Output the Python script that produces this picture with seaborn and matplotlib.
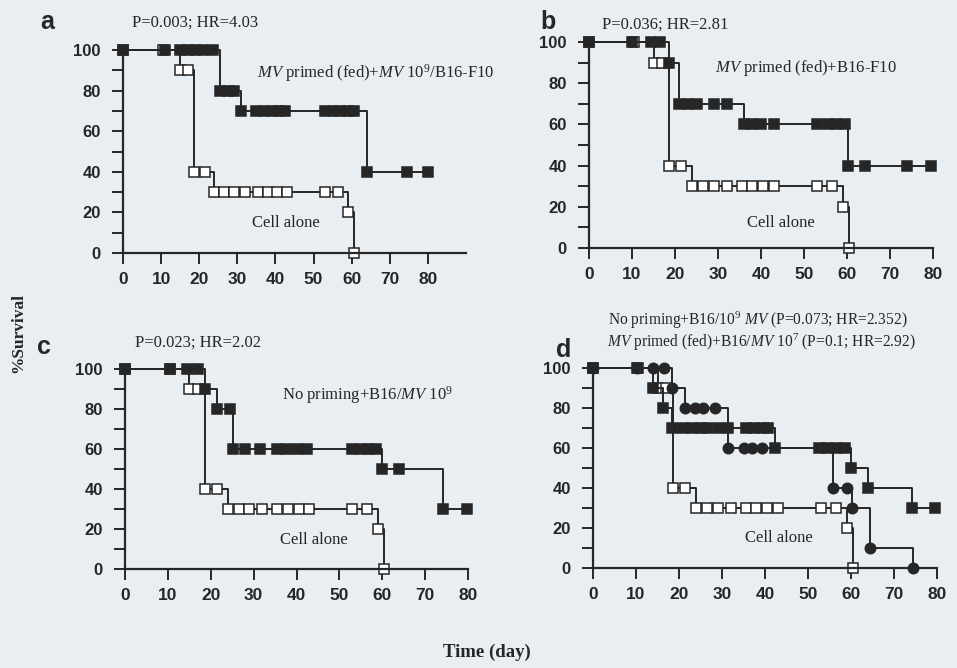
import numpy as np
import pandas as pd
import matplotlib
matplotlib.use('Agg')
import matplotlib.pyplot as plt
import seaborn as sns

# Cell alone (same control group shown in every panel)
cell_days = [0, 10.5, 15, 17, 18.7, 21.5, 24, 26.5, 29, 32, 35.5, 38, 40.5, 43, 53, 56.5, 59, 60.5]
cell_surv = [100, 100, 90, 90, 40, 40, 30, 30, 30, 30, 30, 30, 30, 30, 30, 30, 20, 0]

# a: MV primed (fed)+MV 10^9/B16-F10
a_days = [0, 11, 15, 17, 19, 21, 23.5, 25.5, 27.5, 29, 31, 35, 37, 39, 41, 42.5, 53, 55, 57, 59, 60.5, 64, 74.5, 80]
a_surv = [100, 100, 100, 100, 100, 100, 100, 80, 80, 80, 70, 70, 70, 70, 70, 70, 70, 70, 70, 70, 70, 40, 40, 40]

# b: MV primed (fed)+B16-F10
b_days = [0, 10, 14.5, 16.5, 18.5, 21, 23, 25, 29, 32, 36, 38, 40, 43, 53, 55.5, 57.5, 59.5, 60.2, 64.3, 74, 79.5]
b_surv = [100, 100, 100, 100, 90, 70, 70, 70, 70, 70, 60, 60, 60, 60, 60, 60, 60, 60, 40, 40, 40, 40]

# c: No priming+B16/MV 10^9
c_days = [0, 10.5, 14.5, 17, 18.7, 21.5, 24.5, 25.3, 28, 31.5, 35.5, 37.5, 40, 42.4, 53, 55, 57, 58.5, 60, 64, 74.2, 79.7]
c_surv = [100, 100, 100, 100, 90, 80, 80, 60, 60, 60, 60, 60, 60, 60, 60, 60, 60, 60, 50, 50, 30, 30]

# d: two treated groups (squares and circles)
d_sq_days = [0, 10.2, 14, 16.3, 18.4, 21, 23, 25, 26.5, 29, 31.4, 35.5, 37.5, 39.5, 40.7, 42.3, 52.5, 54.5, 56.5, 58.5, 60, 64, 74.2, 79.5]
d_sq_surv = [100, 100, 90, 80, 70, 70, 70, 70, 70, 70, 70, 70, 70, 70, 70, 60, 60, 60, 60, 60, 50, 40, 30, 30]
d_ci_days = [0, 10.2, 14, 16.5, 18.4, 21.4, 23.7, 25.6, 28.4, 31.4, 35, 37, 39.3, 55.8, 59, 60.2, 64.4, 74.4]
d_ci_surv = [100, 100, 100, 100, 90, 80, 80, 80, 80, 60, 60, 60, 60, 40, 40, 30, 10, 0]

x_ticks = [0, 10, 20, 30, 40, 50, 60, 70, 80]
y_ticks = [0, 20, 40, 60, 80, 100]

sns.set_style('ticks')
plt.rcParams['font.family'] = ['Liberation Serif', 'DejaVu Serif']
plt.rcParams['mathtext.fontset'] = 'custom'
plt.rcParams['mathtext.rm'] = 'Liberation Serif'
plt.rcParams['mathtext.it'] = 'Liberation Serif:italic'

W, H = 957, 668
BG = '#e9eef2'
INK = '#262626'

fig = plt.figure(figsize=(W / 100, H / 100), dpi=100, facecolor=BG)


def box(l, t, r, b):
    return [l / W, 1 - b / H, (r - l) / W, (b - t) / H]


def km(ax, days, surv, marker, face, ms):
    df = pd.DataFrame({'day': days, 'surv': surv})
    sns.lineplot(data=df, x='day', y='surv', ax=ax, estimator=None, sort=False,
                 drawstyle='steps-post', color=INK, lw=1.4,
                 marker=marker, markersize=ms, markerfacecolor=face,
                 markeredgecolor=INK, markeredgewidth=1.1, clip_on=False)


def style(ax, xmax):
    ax.set_facecolor('none')
    ax.set_xlim(0, xmax)
    ax.set_ylim(0, 100)
    ax.set_xticks(x_ticks)
    ax.set_yticks(y_ticks)
    ax.set_yticks([10, 30, 50, 70, 90], minor=True)
    ax.set_xlabel('')
    ax.set_ylabel('')
    sns.despine(ax=ax)
    for s in ['left', 'bottom']:
        ax.spines[s].set_linewidth(1.6)
        ax.spines[s].set_color(INK)
    ax.tick_params(axis='y', which='both', length=8, width=1.4, color=INK, pad=8)
    ax.tick_params(axis='x', length=8, width=1.4, color=INK, pad=6)
    for lab in ax.get_xticklabels():
        lab.set(family='Liberation Sans', weight='bold', size=12.5, color=INK)
    for lab in ax.get_yticklabels():
        lab.set(family='Liberation Sans', weight='bold', size=12, color=INK)


def label(x, y, s, size=12, **kw):
    fig.text(x / W, 1 - y / H, s, size=size, color=INK, va='center', **kw)


ax_a = fig.add_axes(box(123, 50, 466, 253))
km(ax_a, cell_days, cell_surv, 's', 'white', 7)
km(ax_a, a_days, a_surv, 's', INK, 7)
style(ax_a, 90)

ax_b = fig.add_axes(box(589, 42, 933, 248))
km(ax_b, cell_days, cell_surv, 's', 'white', 7)
km(ax_b, b_days, b_surv, 's', INK, 7)
style(ax_b, 80)

ax_c = fig.add_axes(box(125, 369, 468, 569))
km(ax_c, cell_days, cell_surv, 's', 'white', 7)
km(ax_c, c_days, c_surv, 's', INK, 7)
style(ax_c, 80)

ax_d = fig.add_axes(box(593, 368, 937, 568))
km(ax_d, cell_days, cell_surv, 's', 'white', 7)
km(ax_d, d_ci_days, d_ci_surv, 'o', INK, 7.5)
km(ax_d, d_sq_days, d_sq_surv, 's', INK, 7)
style(ax_d, 80)

# annotations
label(132, 23, 'P=0.003; HR=4.03')
label(257, 73, r'$\it{MV}$ primed (fed)+$\it{MV}$ 10$^9$/B16-F10')
label(252, 223, 'Cell alone')

label(602, 25, 'P=0.036; HR=2.81')
label(715, 68, r'$\it{MV}$ primed (fed)+B16-F10')
label(747, 223, 'Cell alone')

label(135, 343, 'P=0.023; HR=2.02')
label(282, 395, r'No priming+B16/$\it{MV}$ 10$^9$')
label(280, 540, 'Cell alone')

label(608, 320, r'No priming+B16/10$^9$ $\it{MV}$ (P=0.073; HR=2.352)', size=11.2)
label(607, 342, r'$\it{MV}$ primed (fed)+B16/$\it{MV}$ 10$^7$ (P=0.1; HR=2.92)', size=11.2)
label(745, 538, 'Cell alone')

for x, y, s in [(40, 22, 'a'), (540, 22, 'b'), (37, 347, 'c'), (556, 350, 'd')]:
    label(x, y, s, size=18, family='Liberation Sans', weight='bold')

label(18, 333, '%Survival', size=12.5, weight='bold', rotation=90, ha='center')
label(487, 652, 'Time (day)', size=13.5, weight='bold', ha='center')

plt.savefig('out.png', dpi=100, facecolor=BG)
plt.close()
